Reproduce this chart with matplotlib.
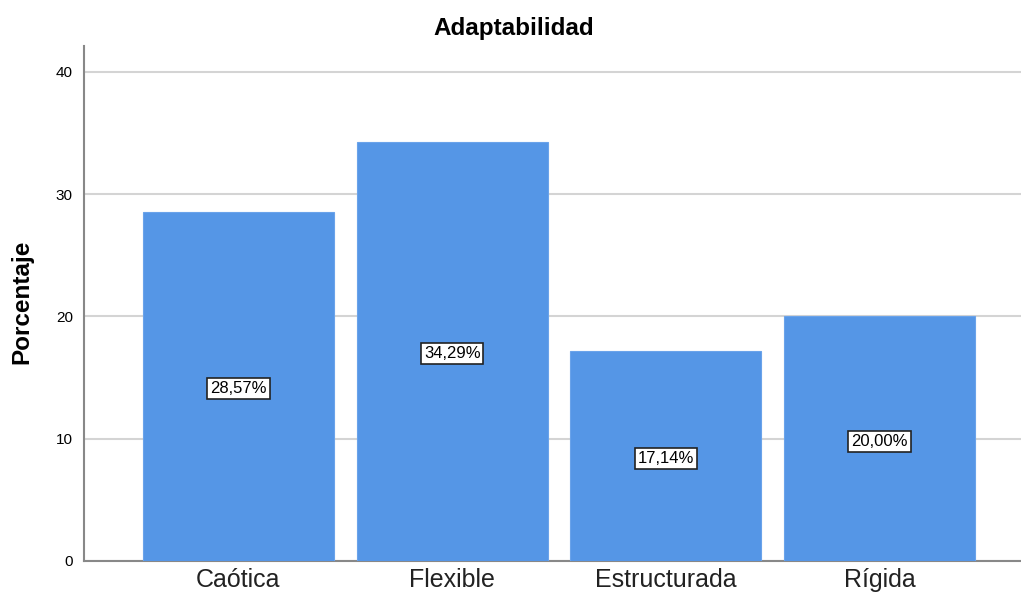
import matplotlib
matplotlib.use("Agg")
import matplotlib.pyplot as plt

categories = ["Caótica", "Flexible", "Estructurada", "Rígida"]
values = [28.57, 34.29, 17.14, 20.00]
labels = ["28,57%", "34,29%", "17,14%", "20,00%"]
yticks = [0, 10, 20, 30, 40]

plt.rcParams['font.family'] = ['Liberation Sans', 'DejaVu Sans']

fig = plt.figure(figsize=(10.21, 6.02), dpi=100)
ax = fig.add_axes([84/1021, 41/602, 937/1021, 515/602])

x = list(range(len(categories)))
ax.bar(x, values, width=0.895, color="#5596e6", edgecolor="#6aa3ea", linewidth=0.8, zorder=3)

for xi, v, lab in zip(x, values, labels):
    ax.text(xi, v / 2 - 0.2, lab, ha="center", va="center", fontsize=12, color="black", zorder=4,
            bbox=dict(boxstyle="square,pad=0.18", facecolor="white", edgecolor="#222222", linewidth=1.2))

ax.set_xlim(-0.723, 3.662)
ax.set_ylim(0, 42.1)
ax.set_yticks(yticks)
ax.set_yticklabels([str(t) for t in yticks], fontsize=11)
ax.set_xticks(x)
ax.set_xticklabels(categories, fontsize=18, color="#222222")
ax.tick_params(axis="both", length=0, pad=8)
ax.tick_params(axis="x", pad=5)
ax.yaxis.grid(True, color="#d4d4d4", linewidth=1.5, zorder=0)
ax.set_axisbelow(True)
for s in ["top", "right"]:
    ax.spines[s].set_visible(False)
ax.spines["left"].set_color("#888888")
ax.spines["left"].set_linewidth(1.5)
ax.spines["bottom"].set_color("#888888")
ax.spines["bottom"].set_linewidth(1.5)

fig.text(22/1021, 1 - 302/602, "Porcentaje", rotation=90, ha="center", va="center",
         fontsize=17.5, fontweight="bold")
fig.text(514/1021, 1 - 28/602, "Adaptabilidad", ha="center", va="center", fontsize=17.5, fontweight="bold")

fig.savefig("out.png", dpi=100)
